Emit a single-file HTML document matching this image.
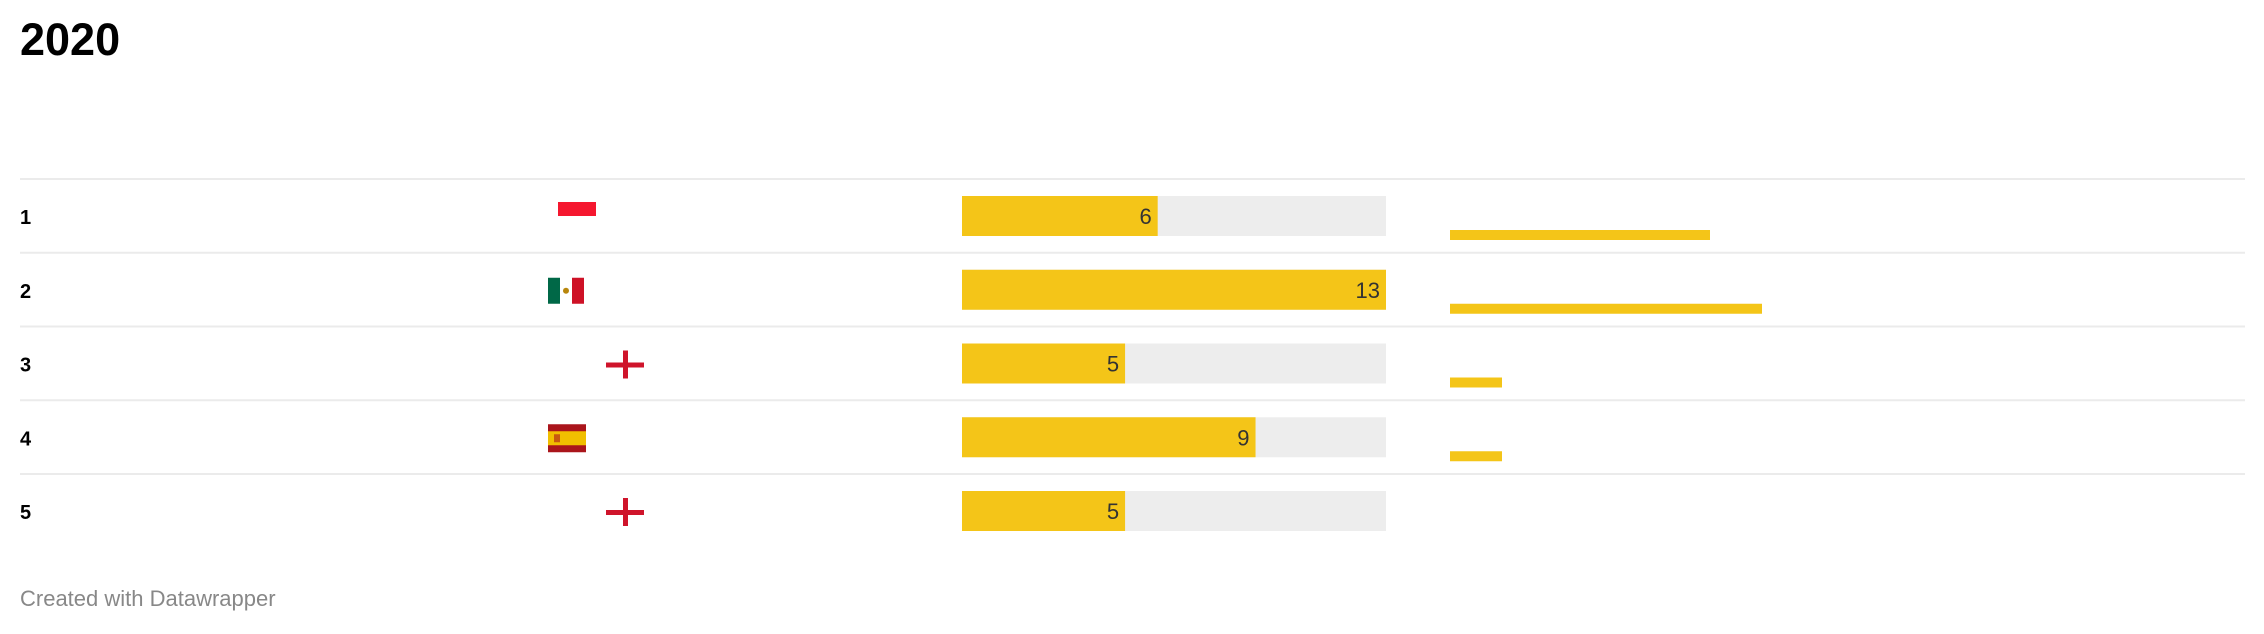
<!DOCTYPE html>
<html><head><meta charset="utf-8">
<style>
html,body{margin:0;padding:0;background:#fff;}
body{width:2264px;height:634px;position:relative;overflow:hidden;font-family:"Liberation Sans",sans-serif;}
.title{position:absolute;left:20px;top:17px;font-size:45px;font-weight:bold;color:#000;line-height:1;}
.footer{position:absolute;left:20px;top:586px;font-size:22px;color:#888;}
</style></head>
<body>
<div class="title">2020</div>
<svg id="chart" width="2264" height="634" style="position:absolute;left:0;top:0"></svg>
<div class="footer">Created with Datawrapper</div>
<script>
const ranks = ["1","2","3","4","5"];
const flags = ["id","mx","eng","es","eng"];
const values = [6,13,5,9,5];
const sparkValues = [5,6,1,1,0];
const maxValue = 13;

const NS="http://www.w3.org/2000/svg";
const svg=document.getElementById('chart');
function mk(tag,attrs,parent){const e=document.createElementNS(NS,tag);for(const k in attrs)e.setAttribute(k,attrs[k]);(parent||svg).appendChild(e);return e;}
const rowTop=179, rowH=73.75;
const barX=962, barW=424, barH=40;
const xScale=v=>v/maxValue*barW;
const sparkX=1450, sparkUnit=52;
function rowY(i){return rowTop+i*rowH;}

ranks.forEach((r,i)=>{
  const y=rowY(i);
  const line=mk('rect',{x:20,y:y-1,width:2225,height:2,fill:'#ebebeb'});
  
  
  const t=mk('text',{x:20,y:y+45,'font-size':20,'font-weight':'bold',fill:'#000','font-family':'Liberation Sans, sans-serif'});
  t.textContent=r;
  
  
  const g=mk('g',{});
  
  
  const f=flags[i];
  if(f==='id'){mk('rect',{x:558,y:y+23,width:38,height:14,fill:'#f5172f'},g);}
  else if(f==='mx'){mk('rect',{x:548,y:y+25,width:12,height:26,fill:'#006847'},g);
    mk('rect',{x:572,y:y+25,width:12,height:26,fill:'#ce1126'},g);
    mk('circle',{cx:566,cy:y+38,r:3,fill:'#b8860b'},g);}
  else if(f==='eng'){
    mk('rect',{x:606,y:y+36,width:38,height:5,fill:'#cf142b'},g);
    mk('rect',{x:623,y:y+24,width:5,height:28,fill:'#cf142b'},g);}
  else if(f==='es'){mk('rect',{x:548,y:y+24,width:38,height:28,fill:'#aa151b'},g);
    mk('rect',{x:548,y:y+31,width:38,height:14,fill:'#f1bf00'},g);
    mk('rect',{x:554,y:y+34,width:6,height:8,fill:'#ad1519',opacity:0.6},g);}
  const bg=mk('rect',{x:barX,y:y+17,width:barW,height:barH,fill:'#ededed'});
  
  
  const b=mk('rect',{x:barX,y:y+17,width:xScale(values[i]),height:barH,fill:'#f4c518'});
  
  
  const vt=mk('text',{x:barX+xScale(values[i])-6,y:y+45,'font-size':22,fill:'#333','text-anchor':'end','font-family':'Liberation Sans, sans-serif'});
  vt.textContent=values[i];
  
  
  if(sparkValues[i]>0){
    const s=mk('rect',{x:sparkX,y:y+51,width:sparkValues[i]*sparkUnit,height:10,fill:'#f4c518'});
    
    
  }
});
</script>
</body></html>
